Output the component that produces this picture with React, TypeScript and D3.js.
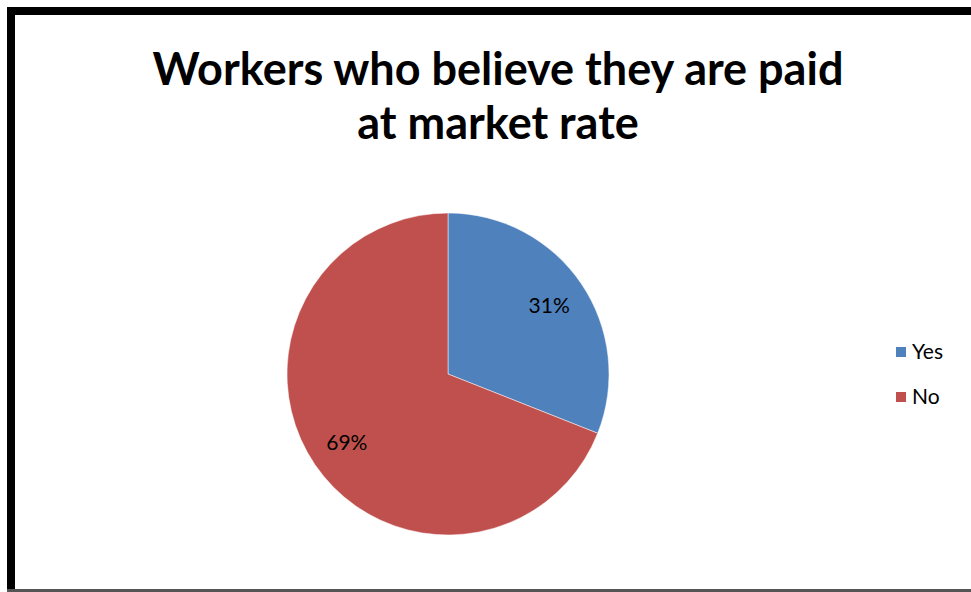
import React from "react";
import * as d3 from "d3";

const categories = ["Yes", "No"];
const values = [31, 69];
const colors = ["#4F81BD", "#C0504D"];
const titleLines = ["Workers who believe they are paid", "at market rate"];

export default function App() {
  const W = 971, H = 592;
  const cx = 448, cy = 374, r = 161;
  const pie = d3.pie<number>().sort(null).value((d) => d)(values);
  const arc = d3.arc<d3.PieArcDatum<number>>().innerRadius(0).outerRadius(r);
  const labelArc = d3.arc<d3.PieArcDatum<number>>().innerRadius(r * 0.76).outerRadius(r * 0.76);
  const total = d3.sum(values);
  return (
    <svg width={W} height={H} style={{ position: "absolute", left: 0, top: 0, background: "#fff" }}>
      <rect x={0} y={0} width={W} height={H} fill="#fff" />
      <line x1={7} y1={11} x2={W} y2={11} stroke="#000" strokeWidth={8} />
      <line x1={11} y1={7} x2={11} y2={H} stroke="#000" strokeWidth={8} />
      <line x1={7} y1={590.5} x2={W} y2={590.5} stroke="#555" strokeWidth={3} />
      {titleLines.map((t, i) => (
        <text key={i} x={498} y={85 + i * 54} textAnchor="middle" fontFamily="Lato, 'Open Sans', sans-serif" fontWeight={700} fontSize={45} fill="#000">
          {t}
        </text>
      ))}
      <g transform={`translate(${cx},${cy})`}>
        {pie.map((p, i) => (
          <path key={i} d={arc(p) || ""} fill={colors[i]} stroke="#fff" strokeWidth={0.5} />
        ))}
        {pie.map((p, i) => {
          const [x, y] = labelArc.centroid(p);
          return (
            <text key={"l" + i} x={x} y={y} dy="0.35em" textAnchor="middle" fontFamily="Lato, 'Open Sans', sans-serif" fontSize={21} fill="#000">
              {Math.round((values[i] / total) * 100)}%
            </text>
          );
        })}
      </g>
      {categories.map((c, i) => (
        <g key={c} transform={`translate(896,${347 + i * 45})`}>
          <rect x={0} y={0} width={10} height={10} fill={colors[i]} />
          <text x={16} y={5} dy="0.35em" fontFamily="Lato, 'Open Sans', sans-serif" fontSize={21} fill="#000">{c}</text>
        </g>
      ))}
    </svg>
  );
}
